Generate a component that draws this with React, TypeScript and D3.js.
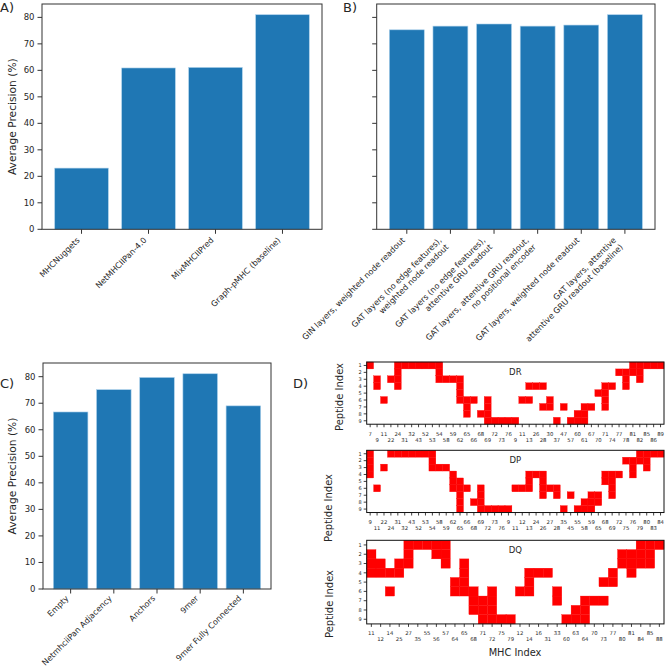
import * as d3 from "d3";
import React from "react";

const W = 666;
const H = 671;
const FONT = "DejaVu Sans, sans-serif";

// A) Graph-pMHC vs. existing predictors
const toolNames = ["MHCNuggets", "NetMHCIIPan-4.0", "MixMHCIIPred", "Graph-pMHC (baseline)"];
const toolAP = [23.1, 60.9, 61.1, 81.0];

// B) architecture ablations
const archLabels = [
  ["GIN layers, weighted node readout"],
  ["GAT layers (no edge features),", "weighted node readout"],
  ["GAT layers (no edge features),", "attentive GRU readout"],
  ["GAT layers, attentive GRU readout,", "no positional encoder"],
  ["GAT layers, weighted node readout"],
  ["GAT layers, attentive", "attentive GRU readout (baseline)"],
];
const archAP = [75.3, 76.7, 77.5, 76.7, 77.1, 81.0];

// C) graph construction
const graphNames = ["Empty", "NetmhciiPan Adjacency", "Anchors", "9mer", "9mer Fully Connected"];
const graphAP = [66.7, 75.1, 79.7, 81.1, 69.0];

const apTicks = [0, 10, 20, 30, 40, 50, 60, 70, 80];

// D) contact maps: MHC residue index per column, peptide positions in contact
const peptidePos = [1, 2, 3, 4, 5, 6, 7, 8, 9];

const drMhc = [7, 9, 11, 22, 24, 31, 32, 43, 52, 53, 54, 58, 59, 62, 65, 66, 68, 69, 72, 73, 76,
  9, 11, 13, 26, 28, 30, 37, 47, 57, 60, 61, 67, 70, 71, 74, 77, 78, 81, 82, 85, 86, 89];
const drContacts = [[1], [3, 4], [6], [3], [1, 2, 3, 4], [1], [1], [1], [1], [1], [1, 2, 3], [3], [3],
  [3, 4, 5, 6], [6, 7, 8], [6], [8], [6, 7, 8, 9], [9], [9], [9], [9], [6], [4, 6], [4], [4, 7], [6, 7],
  [9], [7], [9], [8, 9], [7, 8, 9], [7], [5], [4, 5, 6, 7], [4], [2], [2, 3, 4], [1, 2], [1, 2, 3],
  [1], [1], [1]];

const dpMhc = [9, 11, 22, 24, 31, 32, 43, 52, 53, 54, 58, 59, 62, 65, 66, 68, 69, 72, 73, 76,
  9, 11, 12, 13, 24, 26, 27, 28, 35, 45, 55, 58, 59, 65, 68, 69, 72, 75, 76, 79, 80, 83, 84];
const dpContacts = [[1, 2, 3, 4], [6], [3], [1], [1], [1], [1], [1], [1], [1, 2, 3], [3], [3],
  [4, 5, 6], [5, 6, 7, 8, 9], [6], [8], [6, 7, 8, 9], [9], [9], [9], [9], [6], [6], [4, 5, 6], [4],
  [4, 5, 6, 7], [6], [6, 7], [9], [7], [9], [8, 9], [7, 8, 9], [7, 8], [4, 5], [4, 5, 6, 7], [4],
  [2], [2, 3, 4], [1, 2], [1, 2, 3], [1], [1]];

const dqMhc = [11, 12, 14, 25, 27, 35, 55, 56, 57, 64, 65, 68, 71, 72, 75, 79,
  12, 14, 16, 31, 33, 60, 63, 64, 70, 73, 77, 80, 81, 84, 85, 88];
const dqContacts = [[2, 3, 4], [3, 4], [4, 6], [3, 4], [1, 2, 3], [1], [1], [1, 2], [1, 2, 3],
  [5, 6], [3, 4, 5, 6], [6, 7, 8], [7, 8, 9], [6, 7, 8, 9], [9], [9], [6], [4, 5, 6], [4], [4],
  [6, 7], [9], [8, 9], [7, 8, 9], [7], [5, 7], [4, 5], [2, 3], [2, 3, 4], [1, 2, 3], [1, 2, 3], [1]];

const TICK_FS = 8.5;
const ROT_FS = 8.1;
const INK = "#262626";

function RotLabel({ x, y, lines }: { x: number; y: number; lines: string[] }) {
  const lh = ROT_FS * 1.2;
  const s = Math.SQRT1_2;
  const n = lines.length;
  const ox = x - s * ((n - 1) * lh + ROT_FS * 0.24);
  const oy = y + s * ROT_FS * 0.76;
  return (
    <g>
      {lines.map((l, i) => (
        <text key={i} transform={`translate(${ox + s * i * lh},${oy + s * i * lh}) rotate(-45)`}
          textAnchor="end" fontSize={ROT_FS} fill={INK}>{l}</text>
      ))}
    </g>
  );
}

function Bars({ labels, values, x0, x1, y0, y1, yMax, showTickLabels, ylabel, labelGap }: any) {
  const n = values.length;
  const m = 0.05 * (n - 0.2);
  const x = d3.scaleLinear().domain([-0.4 - m, n - 0.6 + m]).range([x0, x1]);
  const y = d3.scaleLinear().domain([0, yMax]).range([y1, y0]);
  return (
    <g>
      {values.map((v: number, i: number) => (
        <rect key={i} x={x(i - 0.4)} y={y(v)} width={x(0.8) - x(0)} height={y(0) - y(v)}
          fill="#1f77b4" stroke="#a9cfea" strokeWidth={0.6} />
      ))}
      <rect x={x0} y={y0} width={x1 - x0} height={y1 - y0} fill="none" stroke="#333" strokeWidth={1} />
      {apTicks.map((t) => (
        <g key={t}>
          <line x1={x0 - 4.5} x2={x0} y1={y(t)} y2={y(t)} stroke="#333" strokeWidth={1} />
          {showTickLabels && (
            <text x={x0 - 7.5} y={y(t)} dy="0.35em" textAnchor="end" fontSize={TICK_FS} fill={INK}>{t}</text>
          )}
        </g>
      ))}
      {values.map((_: number, i: number) => (
        <g key={i}>
          <line x1={x(i)} x2={x(i)} y1={y1} y2={y1 + 4.5} stroke="#333" strokeWidth={1} />
          <RotLabel x={x(i)} y={y1 + labelGap} lines={Array.isArray(labels[i]) ? labels[i] : [labels[i]]} />
        </g>
      ))}
      {ylabel && (
        <text transform={`translate(12,${(y0 + y1) / 2}) rotate(-90)`} textAnchor="middle" dy="0.35em"
          fontSize={10.7} fill={INK}>{ylabel}</text>
      )}
    </g>
  );
}

function ContactMap({ mhc, contacts, top, name, labelX, labelY }: any) {
  const x0 = 366.7;
  const x1 = 664;
  const n = mhc.length;
  const cell = (x1 - x0) / n;
  const x = d3.scaleBand<number>().domain(d3.range(n)).range([x0, x1]);
  const y = d3.scaleBand<number>().domain(peptidePos).range([top, top + peptidePos.length * cell]);
  const bottom = top + peptidePos.length * cell;
  return (
    <g>
      {contacts.flatMap((rows: number[], c: number) =>
        rows.map((r) => (
          <rect key={`${c}-${r}`} x={x(c)} y={y(r)} width={x.bandwidth()} height={y.bandwidth()}
            fill="#ff0000" stroke="#ff0000" strokeWidth={0.3} />
        ))
      )}
      <rect x={x0} y={top} width={x1 - x0} height={bottom - top} fill="none" stroke="#111" strokeWidth={1} />
      <text x={(x0 + x1) / 2} y={top + 13} textAnchor="middle" fontSize={8.5} fill={INK}>{name}</text>
      {mhc.map((v: number, c: number) => {
        const cx = (x(c) as number) + x.bandwidth() / 2;
        return (
          <g key={c}>
            <line x1={cx} x2={cx} y1={bottom} y2={bottom + 3} stroke="#111" strokeWidth={0.8} />
            <text x={cx} y={bottom + (c % 2 === 0 ? 11.5 : 17.5)} textAnchor="middle" fontSize={5.3} fill={INK}>{v}</text>
          </g>
        );
      })}
      {peptidePos.map((p) => {
        const cy = (y(p) as number) + y.bandwidth() / 2;
        return (
          <g key={p}>
            <line x1={x0 - 3} x2={x0} y1={cy} y2={cy} stroke="#111" strokeWidth={0.8} />
            <text x={x0 - 5} y={cy} dy="0.35em" textAnchor="end" fontSize={5} fill={INK}>{p}</text>
          </g>
        );
      })}
      <text transform={`translate(${labelX},${labelY}) rotate(-90)`} textAnchor="middle" dy="0.35em"
        fontSize={10} fill={INK}>Peptide Index</text>
    </g>
  );
}

export default function App() {
  const yMaxAB = (d3.max(toolAP.concat(archAP)) as number) * 1.05;
  const yMaxC = (d3.max(graphAP) as number) * 1.05;
  return (
    <svg width={W} height={H} style={{ position: "absolute", left: 0, top: 0, background: "#fff" }}
      fontFamily={FONT}>
      <Bars labels={toolNames} values={toolAP} x0={42} x1={322} y0={4} y1={229.3} yMax={yMaxAB}
        showTickLabels ylabel="Average Precision (%)" labelGap={7} />
      <Bars labels={archLabels} values={archAP} x0={376.7} x1={655} y0={4} y1={229.3} yMax={yMaxAB}
        showTickLabels={false} labelGap={7} />
      <Bars labels={graphNames} values={graphAP} x0={43} x1={271} y0={363} y1={589} yMax={yMaxC}
        showTickLabels ylabel="Average Precision (%)" labelGap={5.5} />

      <ContactMap mhc={drMhc} contacts={drContacts} top={362} name="DR" labelX={339} labelY={397} />
      <ContactMap mhc={dpMhc} contacts={dpContacts} top={450.3} name="DP" labelX={328} labelY={508} />
      <ContactMap mhc={dqMhc} contacts={dqContacts} top={540.3} name="DQ" labelX={329} labelY={604} />
      <text x={515} y={656} textAnchor="middle" fontSize={9.8} fill={INK}>MHC Index</text>

      <text x={0} y={12} fontSize={13} fill={INK}>A)</text>
      <text x={343} y={12} fontSize={13} fill={INK}>B)</text>
      <text x={0} y={388} fontSize={13} fill={INK}>C)</text>
      <text x={293} y={388} fontSize={13} fill={INK}>D)</text>
    </svg>
  );
}
